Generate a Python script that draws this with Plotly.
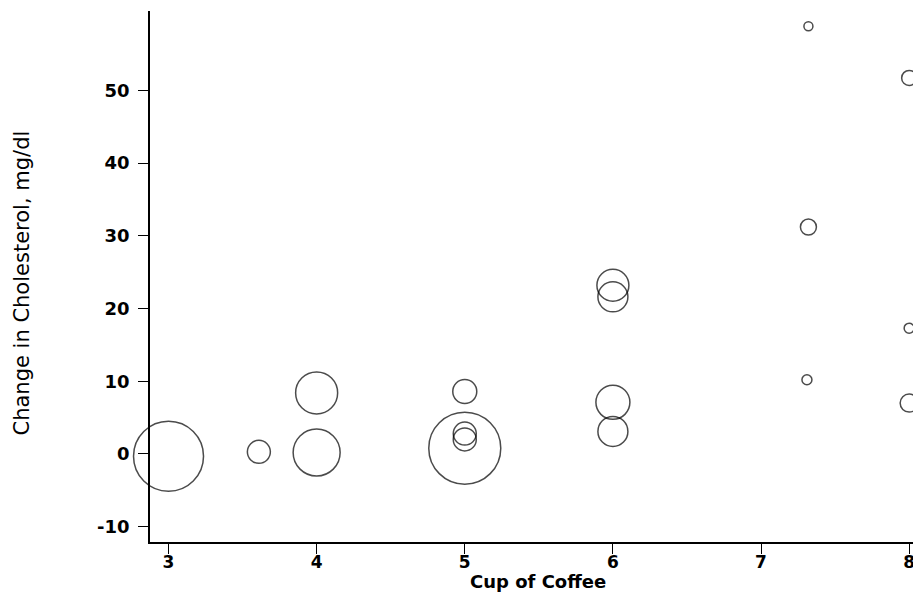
import plotly.graph_objects as go

# Data
cups = [3.0, 3.61, 4.0, 4.0, 5.0, 5.0, 5.0, 5.0, 6.0, 6.0, 6.0, 6.0,
        7.32, 7.32, 7.31, 8.0, 8.0, 8.0]
chol_change = [-0.3, 0.3, 0.2, 8.4, 0.8, 8.6, 2.8, 2.0, 23.2, 21.6, 7.1, 3.1,
               58.8, 31.2, 10.2, 51.7, 17.3, 7.0]
weights = [70, 23, 47, 42, 72, 24, 23, 23, 32, 30, 34, 30,
           9, 16, 10, 15, 10, 18]

x_ticks = [3, 4, 5, 6, 7, 8]
y_ticks = [-10, 0, 10, 20, 30, 40, 50]
x_title = "Cup of Coffee"
y_title = "Change in Cholesterol, mg/dl"

# page is 921x595 but the browser body has an 8px margin
OFF = 8
W, H = 921 - OFF, 595 - OFF
# desired plot area in page pixels
P_LEFT, P_RIGHT, P_TOP, P_BOTTOM = 150, 921, 11, 542
ML = P_LEFT - OFF
MR = (OFF + W) - P_RIGHT
MT = P_TOP - OFF
MB = (OFF + H) - P_BOTTOM
PW, PH = P_RIGHT - P_LEFT, P_BOTTOM - P_TOP


def px_to_paper(px, py):
    return (px - P_LEFT) / PW, (P_BOTTOM - py) / PH


fig = go.Figure()
fig.add_trace(go.Scatter(
    x=cups, y=chol_change, mode="markers",
    marker=dict(size=weights, sizemode="diameter", sizeref=1,
                color="rgba(0,0,0,0)",
                line=dict(color="black", width=1.5)),
    cliponaxis=False,
    showlegend=False, hoverinfo="x+y",
))

xt_x, xt_y = px_to_paper(537.5, 581)
yt_x, yt_y = px_to_paper(21, 283.5)

fig.update_layout(
    width=W, height=H,
    margin=dict(l=ML, r=MR, t=MT, b=MB, pad=0),
    paper_bgcolor="white", plot_bgcolor="white",
    xaxis=dict(
        range=[2.875, 8.08], tickvals=x_ticks,
        ticktext=[f"<b>{v}</b>" for v in x_ticks],
        showline=True, linecolor="black", linewidth=1.5,
        ticks="outside", ticklen=10, tickwidth=1.3, tickcolor="black",
        ticklabelstandoff=-6,
        showgrid=False, zeroline=False, automargin=False,
        tickfont=dict(family="DejaVu Sans", size=17, color="black"),
    ),
    yaxis=dict(
        range=[-12.1, 60.9], tickvals=y_ticks,
        ticktext=[f"<b>{v}</b>" for v in y_ticks],
        showline=True, linecolor="black", linewidth=1.5,
        ticks="outside", ticklen=10, tickwidth=1.3, tickcolor="black",
        ticklabelstandoff=5,
        showgrid=False, zeroline=False, automargin=False,
        tickfont=dict(family="DejaVu Sans", size=18, color="black"),
    ),
    annotations=[
        dict(text=f"<b>{x_title}</b>", xref="paper", yref="paper",
             x=xt_x, y=xt_y,
             xanchor="center", yanchor="middle", showarrow=False,
             font=dict(family="DejaVu Sans", size=18, color="black")),
        dict(text=y_title, xref="paper", yref="paper", textangle=-90,
             x=yt_x, y=yt_y,
             xanchor="center", yanchor="middle", showarrow=False,
             font=dict(family="DejaVu Sans", size=21, color="black")),
    ],
)

fig.write_html("out.html")
